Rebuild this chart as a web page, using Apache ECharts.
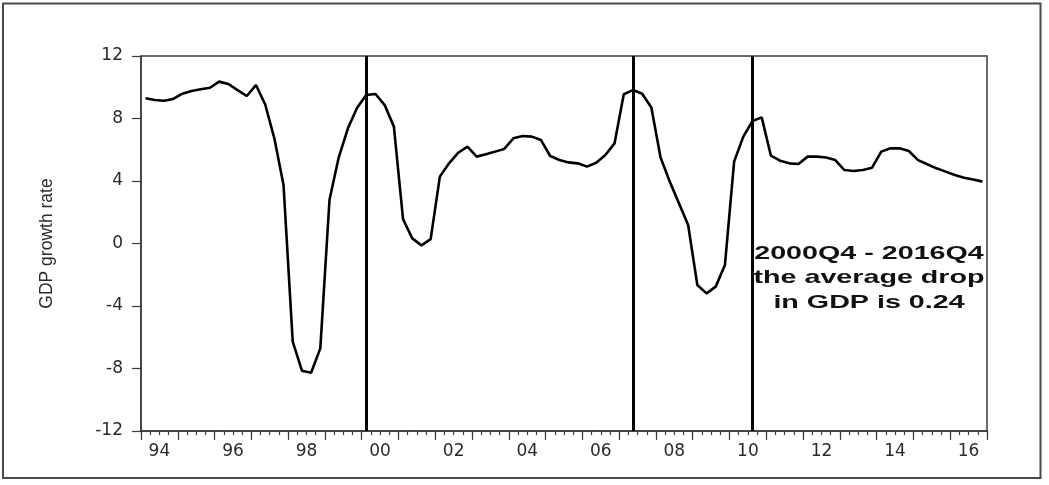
<!DOCTYPE html>
<html>
<head>
<meta charset="utf-8">
<script src="https://cdn.jsdelivr.net/npm/echarts@6/dist/echarts.min.js"></script>
<style>
  html, body { margin: 0; padding: 0; background: #ffffff; }
  #chart { width: 1049px; height: 485px; }
</style>
</head>
<body>
<div id="chart"></div>
<script>
// ---- data ----
const years = ['94','95','96','97','98','99','00','01','02','03','04','05','06','07','08','09','10','11','12','13','14','15','16'];
const quarterNames = ['Q1','Q2','Q3','Q4'];
const yTicks = [-12, -8, -4, 0, 4, 8, 12];
const gdpGrowth = [
  9.29, 9.18, 9.14, 9.25,   // 1994
  9.59, 9.76, 9.87, 9.97,   // 1995
  10.36, 10.21, 9.82, 9.44, // 1996
  10.14, 8.91, 6.73, 3.74,  // 1997
  -6.28, -8.14, -8.27, -6.71, // 1998
  2.80, 5.50, 7.37, 8.69,   // 1999
  9.50, 9.57, 8.86, 7.48,   // 2000
  1.55, 0.33, -0.12, 0.28,  // 2001
  4.28, 5.13, 5.81, 6.20,   // 2002
  5.56, 5.71, 5.88, 6.05,   // 2003
  6.73, 6.88, 6.84, 6.62,   // 2004
  5.60, 5.34, 5.19, 5.13,   // 2005
  4.92, 5.17, 5.66, 6.41,   // 2006
  9.55, 9.82, 9.58, 8.70,   // 2007
  5.50, 3.96, 2.57, 1.18,   // 2008
  -2.66, -3.19, -2.76, -1.38, // 2009
  5.24, 6.84, 7.84, 8.07,   // 2010
  5.62, 5.30, 5.13, 5.09,   // 2011
  5.56, 5.56, 5.50, 5.34,   // 2012
  4.70, 4.64, 4.70, 4.85,   // 2013
  5.88, 6.09, 6.09, 5.92,   // 2014
  5.34, 5.07, 4.81, 4.60,   // 2015
  4.38, 4.21, 4.10, 3.96    // 2016
];
const breakQuarters = ['00Q1', '07Q2', '10Q3'];
const yAxisTitle = 'GDP growth rate';
const noteLines = ['2000Q4 - 2016Q4', 'the average drop', 'in GDP is 0.24'];

// build quarterly categories
const quarters = [];
years.forEach(y => quarterNames.forEach(q => quarters.push(y + q)));

const axisColor = '#3a3a3a';
const gridBox = { left: 141, top: 56, right: 62, bottom: 54 };

const chart = echarts.init(document.getElementById('chart'), null, { renderer: 'canvas' });
chart.setOption({
  backgroundColor: '#ffffff',
  animation: false,
  grid: [
    Object.assign({ show: true, borderColor: axisColor, borderWidth: 1.5, backgroundColor: 'transparent' }, gridBox),
    Object.assign({ show: false }, gridBox)
  ],
  xAxis: [
    {
      type: 'category', gridIndex: 0, data: quarters, boundaryGap: true, position: 'bottom',
      axisLine: { show: true, onZero: false, lineStyle: { color: axisColor, width: 1.5 } },
      axisTick: { show: true, interval: 0, length: 4, inside: false, lineStyle: { color: axisColor, width: 1.2 } },
      axisLabel: { show: false },
      splitLine: { show: false }
    },
    {
      type: 'category', gridIndex: 1, data: years, boundaryGap: true, position: 'bottom',
      axisLine: { show: false, onZero: false },
      axisTick: { show: true, interval: 0, length: 9, inside: false, lineStyle: { color: axisColor, width: 1.2 } },
      axisLabel: { show: true, interval: 1, margin: 12, color: '#2a2a2a', fontFamily: 'DejaVu Sans', fontSize: 17 },
      splitLine: { show: false }
    }
  ],
  yAxis: [
    {
      type: 'value', gridIndex: 0, min: yTicks[0], max: yTicks[yTicks.length - 1], interval: 4,
      axisLine: { show: true, lineStyle: { color: axisColor, width: 1.5 } },
      axisTick: { show: true, length: 9, inside: false, lineStyle: { color: axisColor, width: 1.2 } },
      axisLabel: { margin: 18, color: '#2a2a2a', fontFamily: 'DejaVu Sans', fontSize: 17 },
      splitLine: { show: false },
      name: yAxisTitle, nameLocation: 'middle', nameRotate: 90, nameGap: 85,
      nameTextStyle: { color: '#2a2a2a', fontFamily: 'Liberation Sans, Arial, sans-serif', fontSize: 17.5 }
    },
    {
      type: 'value', gridIndex: 1, min: yTicks[0], max: yTicks[yTicks.length - 1], interval: 4, show: false
    }
  ],
  series: [
    {
      type: 'line', xAxisIndex: 0, yAxisIndex: 0, data: gdpGrowth,
      showSymbol: false, symbol: 'none', smooth: false,
      lineStyle: { color: '#000000', width: 2.6 },
      markLine: {
        silent: true, symbol: ['none', 'none'], label: { show: false },
        lineStyle: { color: '#000000', width: 3, type: 'solid' },
        data: breakQuarters.map(q => ({ xAxis: q }))
      }
    }
  ],
  graphic: [
    {
      type: 'rect', silent: true,
      shape: { x: 3, y: 3.5, width: 1037.5, height: 474.5 },
      style: { fill: 'none', stroke: '#4a4a4a', lineWidth: 2 }
    },
    {
      type: 'text', silent: true, x: 869, y: 278, scaleX: 1.55, scaleY: 1,
      style: {
        text: noteLines.join('\n'), x: 0, y: 0,
        textAlign: 'center', textVerticalAlign: 'middle',
        font: 'bold 18.5px "Liberation Sans", Arial, sans-serif',
        lineHeight: 24.5, fill: '#111111'
      }
    }
  ]
});
</script>
</body>
</html>
